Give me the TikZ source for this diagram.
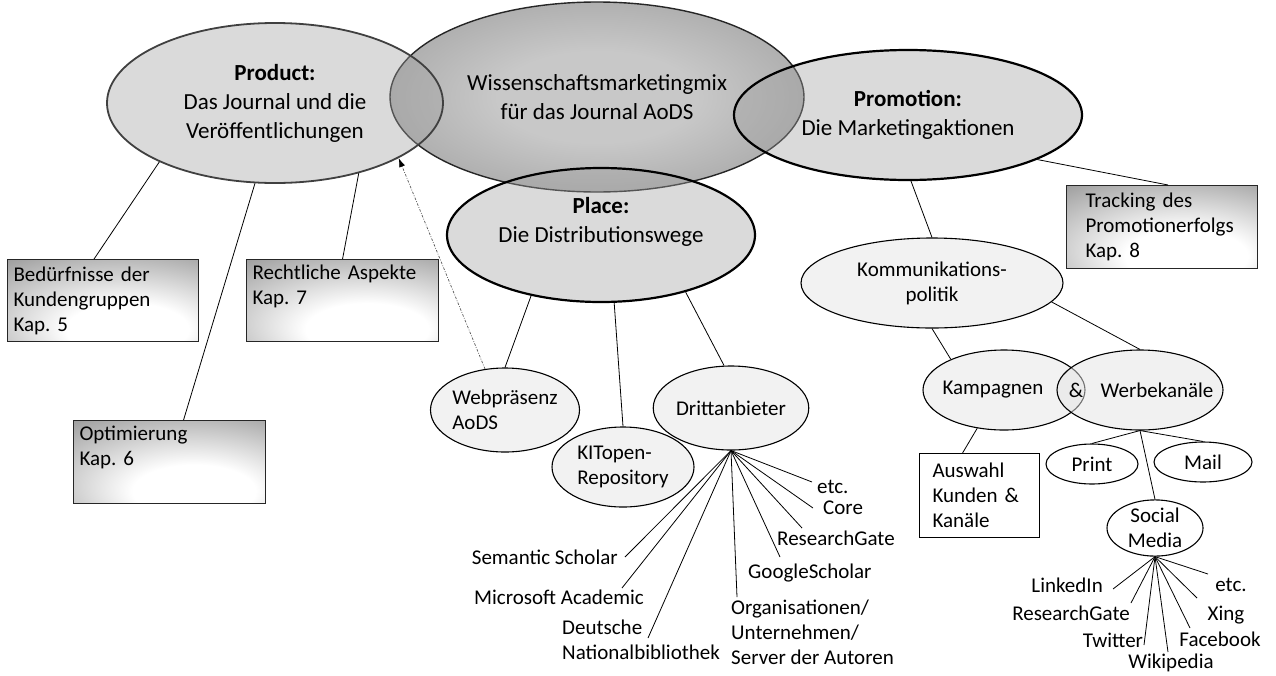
\documentclass[tikz,border=0pt]{standalone}
\usepackage{fontspec}
\setmainfont{Carlito}
\frenchspacing
\usetikzlibrary{shapes.geometric,arrows.meta,calc}

\definecolor{mixin}{RGB}{200,200,200}
\definecolor{mixout}{RGB}{130,130,130}
\definecolor{pfill}{RGB}{160,160,160}
\definecolor{sfill}{RGB}{242,242,242}
\definecolor{wfill}{RGB}{229,229,229}
\definecolor{boxedge}{RGB}{135,135,135}
\definecolor{prodline}{RGB}{64,64,64}

% soft glow for the central ellipse and the chapter boxes
\pgfdeclareradialshading{mixglow}{\pgfpoint{0bp}{0bp}}{color(0bp)=(mixin); color(12bp)=(mixin); color(50bp)=(mixout); color(75bp)=(mixout)}
\pgfdeclareradialshading{boxglow}{\pgfpoint{8bp}{-22bp}}{color(0bp)=(white); color(16bp)=(white); color(52bp)=(boxedge); color(80bp)=(boxedge)}

\newcommand\bigtxt{\fontsize{23}{29}\selectfont}
\newcommand\smtxt{\fontsize{21}{25}\selectfont}

\tikzset{
  conn/.style={draw=black, line width=0.8pt},
  bigell/.style={ellipse, draw=black, line width=2.2pt, fill=pfill, fill opacity=0.38,
    text opacity=1, inner sep=0pt, align=center, font=\bigtxt},
  smallell/.style={ellipse, draw=black, line width=1.1pt, fill=sfill, inner sep=0pt,
    align=center, font=\smtxt},
  infobox/.style={rectangle, draw=black!85, line width=1.1pt, shade, shading=boxglow,
    inner xsep=6pt, inner ysep=0pt, align=left, font=\smtxt, anchor=north west},
  lbl/.style={font=\smtxt, inner sep=0pt}
}

\begin{document}
\begin{tikzpicture}[x=1pt, y=-1pt]
\fill[white] (0,0) rectangle (1276,675);
\useasboundingbox (0,0) rectangle (1276,675);

% central ellipse and the three surrounding P's
\node[ellipse, draw=black!85, line width=1.4pt, shade, shading=mixglow, inner sep=0pt,
  align=center, font=\bigtxt, minimum width=414pt, minimum height=190pt] (mix) at (597,97)
  {Wissenschaftsmarketingmix\\für das Journal AoDS};
\node[bigell, draw=prodline, line width=1.8pt, minimum width=336pt, minimum height=160pt]
  (prod) at (275,103) {\textbf{Product:}\\Das Journal und die\\Veröffentlichungen};
\node[bigell, minimum width=348pt, minimum height=130pt] (promo) at (908,115)
  {\textbf{Promotion:}\\Die Marketingaktionen};
\node[bigell, minimum width=308pt, minimum height=134pt] (place) at (601,235) {};
\node[font=\bigtxt, align=center, inner sep=0pt] (placetext) at (601,222)
  {\textbf{Place:}\\Die Distributionswege};

% chapter boxes
\node[infobox, minimum width=191pt, minimum height=82pt, text width=179pt] (bed) at (7,259)
  {Bedürfnisse der\\Kundengruppen\\Kap. 5};
\node[infobox, minimum width=192pt, minimum height=82pt, text width=180pt] (rech) at (246,259)
  {Rechtliche Aspekte\\Kap. 7\\\strut};
\node[infobox, minimum width=192pt, minimum height=83pt, text width=180pt] (opt) at (73,420)
  {Optimierung\\Kap. 6\\\strut};
\node[infobox, minimum width=191pt, minimum height=83pt, text width=173pt, inner xsep=0pt]
  (track) at (1066,185) {\hspace*{10pt}Tracking des\\\hspace*{10pt}Promotionerfolgs\\\hspace*{10pt}Kap. 8};
\node[rectangle, draw=black, line width=1.1pt, fill=white, anchor=north west, align=left,
  font=\smtxt, inner xsep=13pt, inner ysep=0pt, minimum width=120pt, minimum height=84pt,
  text width=94pt] (ausw) at (919,453) {Auswahl\\Kunden \&\\Kanäle};

% distribution channels
\node[smallell, align=left, minimum width=142pt, minimum height=84pt] (web) at (505,410)
  {Webpräsenz\\AoDS};
\node[smallell, align=left, minimum width=142pt, minimum height=80pt] (kit) at (623,467)
  {KITopen-\\Repository};
\node[smallell, minimum width=142pt, minimum height=84pt] (dritt) at (731,408)
  {Drittanbieter};

% communication branch
\node[smallell, minimum width=262pt, minimum height=90pt] (komm) at (932,283)
  {Kommunikations-\\politik};
\node[smallell, minimum width=162pt, minimum height=80pt] (kamp) at (1004,390) {};
\node[smallell, fill=wfill, fill opacity=0.5, minimum width=166pt, minimum height=80pt]
  (werbe) at (1140,390) {};
\node[lbl] (kamptext) at (993,390) {Kampagnen};
\node[lbl] (amp) at (1076,390) {\&};
\node[lbl] (werbetext) at (1157,390) {Werbekanäle};
\node[smallell, fill=white, minimum width=92pt, minimum height=40pt] (print) at (1092,464) {Print};
\node[smallell, fill=white, minimum width=98pt, minimum height=40pt] (mail) at (1203,462) {Mail};
\node[smallell, fill=white, minimum width=96pt, minimum height=44pt] (social) at (1155,528)
  {Social\\Media};

% third-party platforms
\node[lbl, anchor=west] (dEtc) at (817,487) {etc.};
\node[lbl, anchor=west] (dCore) at (823,508) {Core};
\node[lbl, anchor=west] (dRG) at (777,538) {ResearchGate};
\node[lbl, anchor=west] (dGS) at (748,573) {GoogleScholar};
\node[lbl, anchor=north west, align=left] (dOrg) at (731,600)
  {Organisationen/\\Unternehmen/\\Server der Autoren};
\node[lbl, anchor=east] (dSem) at (618,557) {Semantic Scholar};
\node[lbl] (dMS) at (559,597) {Microsoft Academic};
\node[lbl, anchor=west, align=left] (dDNB) at (562,640) {Deutsche\\Nationalbibliothek};

\coordinate (eEtc) at (812,482);
\coordinate (eCore) at (813,508);
\coordinate (eRG) at (802,528);
\coordinate (eGS) at (780,557);
\coordinate (eOrg) at (737,597);
\coordinate (eSem) at (625,557);
\coordinate (eMS) at (622,588);
\coordinate (eDNB) at (648,638);

% social media platforms
\node[lbl, anchor=east] (sLI) at (1103,585) {LinkedIn};
\node[lbl] (sRG) at (1071,613) {ResearchGate};
\node[lbl] (sTw) at (1113,640) {Twitter};
\node[lbl] (sWi) at (1171,663) {Wikipedia};
\node[lbl] (sFb) at (1220,639) {Facebook};
\node[lbl] (sXi) at (1226,615) {Xing};
\node[lbl] (sEtc) at (1231,585) {etc.};

\coordinate (fLI) at (1113,589);
\coordinate (fRG) at (1131,603);
\coordinate (fTw) at (1144,645);
\coordinate (fWi) at (1168,652);
\coordinate (fFb) at (1190,628);
\coordinate (fXi) at (1197,598);
\coordinate (fEtc) at (1208,574);

% connectors
\draw[conn] (prod.207.6) -- ([xshift=-9pt]bed.north);
\draw[conn] (prod.256.5) -- ([xshift=14pt]opt.north);
\draw[conn] (prod.320.3) -- (rech.north);
\draw[dash pattern=on 2.5pt off 1.5pt on 0.8pt off 1.5pt, draw=black!65, line width=0.7pt,
  -{Latex[length=9pt, width=6pt, color=black]}] (web.116.6) -- (prod.336.8);

\draw[conn] (place.221.6) -- (web.north);
\draw[conn] (place.281) -- (kit.north);
\draw[conn] (place.326.6) -- ([xshift=-7pt]dritt.north);

\foreach \e in {eEtc,eCore,eRG,eGS,eOrg,eSem,eMS,eDNB}
  \draw[conn] (dritt.south) -- (\e);

\draw[conn] (promo.341.3) -- ([xshift=6pt]track.north);
\draw[conn] ([xshift=3pt]promo.south) -- (komm.north);
\draw[conn] (komm.south) -- (kamp.150.7);
\draw[conn] (komm.351.2) -- (werbe.north);
\draw[conn] (kamp.235.6) -- ([xshift=-17pt]ausw.north);
\draw[conn] (werbe.south) -- (print.north);
\draw[conn] (werbe.south) -- (mail.north);
\draw[conn] (werbe.south) -- (social.north);

\foreach \e in {fLI,fRG,fTw,fWi,fFb,fXi,fEtc}
  \draw[conn] (social.south) -- (\e);
\end{tikzpicture}
\end{document}
